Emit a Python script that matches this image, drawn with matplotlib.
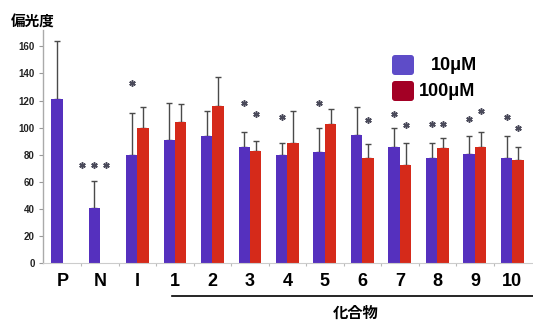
import matplotlib
matplotlib.use("Agg")
import matplotlib.pyplot as plt
import matplotlib.patches as mpatches
import numpy as np

plt.rcParams['font.family'] = ['Liberation Sans', 'Noto Sans CJK JP', 'DejaVu Sans']

categories = ['P', 'N', 'I', '1', '2', '3', '4', '5', '6', '7', '8', '9', '10']
vals_10 = [121, 41, 80, 91, 93.5, 86, 79.5, 82, 94.5, 85.5, 78, 80.5, 78]
err_10 = [43, 20, 31, 27, 19, 11, 9.5, 18, 20.5, 14.5, 10.5, 13, 15.5]
vals_100 = [np.nan, np.nan, 100, 104.5, 116, 82.5, 89, 102.5, 77.5, 72.5, 85, 85.5, 76]
err_100 = [np.nan, np.nan, 15.5, 13, 21.5, 7.5, 23.5, 11.5, 10.5, 16.5, 7.5, 11.5, 10]
# significance marker heights (None = no marker)
star_10 = [None, 72.5, 133, None, None, 118, 108, 118, None, 110, 102.5, 106.5, 107.5]
star_100 = [None, None, None, None, None, 110, None, None, 106, 102, 102.5, 112, 99.5]
n_stars = [0, 3, 1, 0, 0, 1, 1, 1, 0, 1, 1, 1, 1]
yticks = [0, 20, 40, 60, 80, 100, 120, 140, 160]
ytick_labels = ['0', '20', '40', '60', '80', '100', '120', '140', '160']
legend_labels = ['10μM', '100μM']

blue = '#5530BE'
red = '#D52A1A'
leg_blue = '#5E4CC8'
leg_red = '#A30025'
errc = '#4a4a4a'
starc = '#4a4a5a'

W, H = 533, 322
fig = plt.figure(figsize=(5.33, 3.22), dpi=100)
ax = fig.add_axes([0.0807, 0.1823, 0.9193, 0.7245])

x = np.arange(len(categories))
w = 0.305
xb = x - w / 2
xr = x + w / 2

ax.bar(xb, vals_10, width=w, color=blue, zorder=2)
ax.bar(xr, vals_100, width=w, color=red, zorder=2)
ax.errorbar(xb, vals_10, yerr=[np.zeros(len(x)), err_10], fmt='none',
            ecolor=errc, elinewidth=1.0, capsize=2.5, capthick=1.0, zorder=1)
ax.errorbar(xr, vals_100, yerr=[np.zeros(len(x)), np.nan_to_num(err_100)],
            fmt='none', ecolor=errc, elinewidth=1.0, capsize=2.5, capthick=1.0, zorder=1)

star_marker = dict(marker=(6, 2, 0), markersize=4.6, markeredgewidth=1.1,
                   color=starc, linestyle='none')
for i in range(len(x)):
    if star_10[i] is not None:
        n = n_stars[i]
        offs = (np.arange(n) - (n - 1) / 2) * 0.32
        ax.plot(xb[i] + offs, [star_10[i]] * n, **star_marker)
    if star_100[i] is not None:
        ax.plot([xr[i]], [star_100[i]], **star_marker)

ax.set_xlim(-0.52, 12.55)
ax.set_ylim(0, 172)
ax.set_yticks(yticks)
ax.set_yticklabels(ytick_labels, fontsize=7, fontweight='bold', color='#222222')
ax.tick_params(axis='y', length=3, width=0.8, color='#999999', pad=3)

ax.set_xticks(x)
ax.set_xticklabels(categories, fontsize=13, fontweight='bold')
ax.set_xticks(x[:-1] + 0.5, minor=True)
ax.tick_params(axis='x', which='major', length=0, pad=7)
ax.tick_params(axis='x', which='minor', length=2, width=0.8, color='#bbbbbb')

for s in ['top', 'right']:
    ax.spines[s].set_visible(False)
ax.spines['left'].set_color('#aaaaaa')
ax.spines['left'].set_linewidth(1.0)
ax.spines['bottom'].set_color('#cccccc')
ax.spines['bottom'].set_linewidth(0.8)

# legend (rounded squares drawn in pixel space)
for (top, col) in [(55, leg_blue), (81, leg_red)]:
    p = mpatches.FancyBboxPatch((392, H - top - 20), 22, 20,
                                boxstyle='round,pad=0,rounding_size=3',
                                facecolor=col, edgecolor='none', transform=None)
    fig.add_artist(p)
fig.text(431 / W, 1 - 65 / H, legend_labels[0], fontsize=13, fontweight='bold',
         ha='left', va='center')
fig.text(419 / W, 1 - 91.5 / H, legend_labels[1], fontsize=13, fontweight='bold',
         ha='left', va='center')

# underline and compound label
fig.add_artist(plt.Line2D([171.7 / W, 1.0], [1 - 296 / H, 1 - 296 / H],
                          color='black', linewidth=1.2))
fig.text(356 / W, 1 - 313 / H, '化合物', fontsize=11, fontweight='bold',
         ha='center', va='center', family=['Noto Sans CJK JP', 'DejaVu Sans'])
fig.text(33 / W, 1 - 22 / H, '偏光度', fontsize=10.5, fontweight='bold',
         ha='center', va='center', family=['Noto Sans CJK JP', 'DejaVu Sans'])

fig.savefig('out.png', dpi=100)
